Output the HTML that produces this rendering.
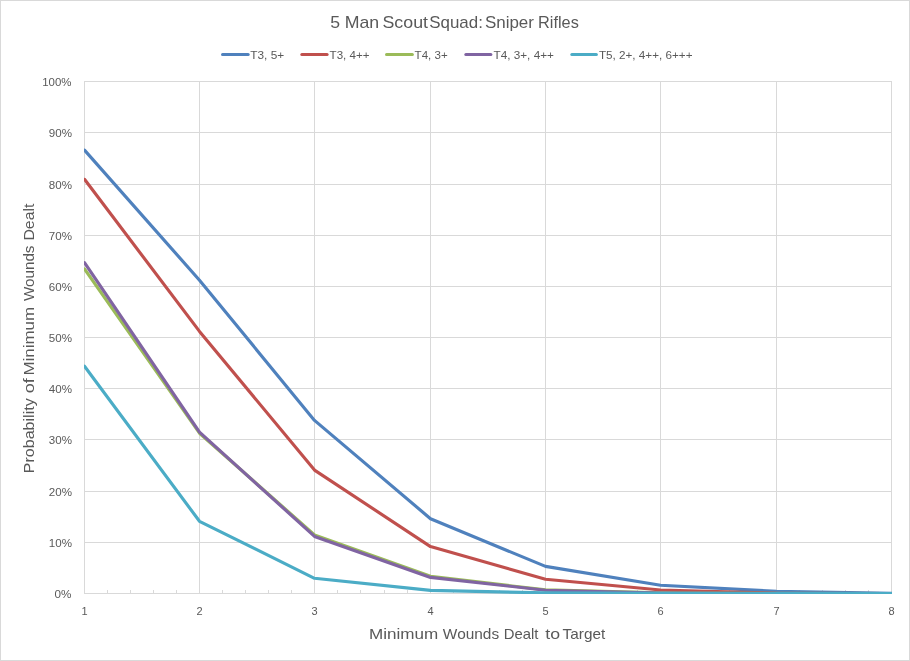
<!DOCTYPE html>
<html lang="en"><head><meta charset="utf-8"><title>5 Man Scout Squad: Sniper Rifles</title>
<style>html,body{margin:0;padding:0;background:#fff}svg{display:block}text{font-family:"Liberation Sans",sans-serif;fill:#595959}</style></head><body>
<svg width="910" height="661" viewBox="0 0 910 661">
<rect x="0" y="0" width="910" height="661" fill="#fff"/>
<rect x="0.5" y="0.5" width="909" height="660" fill="none" stroke="#d9d9d9" stroke-width="1"/>
<g stroke="#d9d9d9" stroke-width="1" shape-rendering="crispEdges">
<line x1="84" y1="593.5" x2="892" y2="593.5"/>
<line x1="84" y1="542.5" x2="892" y2="542.5"/>
<line x1="84" y1="491.5" x2="892" y2="491.5"/>
<line x1="84" y1="439.5" x2="892" y2="439.5"/>
<line x1="84" y1="388.5" x2="892" y2="388.5"/>
<line x1="84" y1="337.5" x2="892" y2="337.5"/>
<line x1="84" y1="286.5" x2="892" y2="286.5"/>
<line x1="84" y1="235.5" x2="892" y2="235.5"/>
<line x1="84" y1="184.5" x2="892" y2="184.5"/>
<line x1="84" y1="132.5" x2="892" y2="132.5"/>
<line x1="84" y1="81.5" x2="892" y2="81.5"/>
<line x1="84.5" y1="81" x2="84.5" y2="594"/>
<line x1="199.5" y1="81" x2="199.5" y2="594"/>
<line x1="314.5" y1="81" x2="314.5" y2="594"/>
<line x1="430.5" y1="81" x2="430.5" y2="594"/>
<line x1="545.5" y1="81" x2="545.5" y2="594"/>
<line x1="660.5" y1="81" x2="660.5" y2="594"/>
<line x1="776.5" y1="81" x2="776.5" y2="594"/>
<line x1="891.5" y1="81" x2="891.5" y2="594"/>
<line x1="107.5" y1="590" x2="107.5" y2="594"/>
<line x1="130.5" y1="590" x2="130.5" y2="594"/>
<line x1="153.5" y1="590" x2="153.5" y2="594"/>
<line x1="176.5" y1="590" x2="176.5" y2="594"/>
<line x1="222.5" y1="590" x2="222.5" y2="594"/>
<line x1="245.5" y1="590" x2="245.5" y2="594"/>
<line x1="268.5" y1="590" x2="268.5" y2="594"/>
<line x1="291.5" y1="590" x2="291.5" y2="594"/>
<line x1="337.5" y1="590" x2="337.5" y2="594"/>
<line x1="360.5" y1="590" x2="360.5" y2="594"/>
<line x1="384.5" y1="590" x2="384.5" y2="594"/>
<line x1="407.5" y1="590" x2="407.5" y2="594"/>
<line x1="453.5" y1="590" x2="453.5" y2="594"/>
<line x1="476.5" y1="590" x2="476.5" y2="594"/>
<line x1="499.5" y1="590" x2="499.5" y2="594"/>
<line x1="522.5" y1="590" x2="522.5" y2="594"/>
<line x1="568.5" y1="590" x2="568.5" y2="594"/>
<line x1="591.5" y1="590" x2="591.5" y2="594"/>
<line x1="614.5" y1="590" x2="614.5" y2="594"/>
<line x1="637.5" y1="590" x2="637.5" y2="594"/>
<line x1="683.5" y1="590" x2="683.5" y2="594"/>
<line x1="706.5" y1="590" x2="706.5" y2="594"/>
<line x1="729.5" y1="590" x2="729.5" y2="594"/>
<line x1="752.5" y1="590" x2="752.5" y2="594"/>
<line x1="799.5" y1="590" x2="799.5" y2="594"/>
<line x1="822.5" y1="590" x2="822.5" y2="594"/>
<line x1="845.5" y1="590" x2="845.5" y2="594"/>
<line x1="868.5" y1="590" x2="868.5" y2="594"/>
</g>
<defs><clipPath id="plot"><rect x="84" y="81" width="808" height="513"/></clipPath></defs>
<g clip-path="url(#plot)" fill="none" stroke-width="3.15" stroke-linejoin="round" stroke-linecap="round">
<polyline stroke="#4F81BD" points="84.5,150.1 199.5,280.2 314.5,420.4 430.5,518.7 545.5,566.4 660.5,585.3 776.5,591.3 891.5,593.3"/>
<polyline stroke="#C0504D" points="84.5,179.3 199.5,331.4 314.5,470.1 430.5,546.6 545.5,579.2 660.5,590.0 776.5,593.2 891.5,593.5"/>
<polyline stroke="#9BBB59" points="84.5,268.9 199.5,433.2 314.5,534.9 430.5,576.3 545.5,589.9 660.5,592.9 776.5,593.4 891.5,593.5"/>
<polyline stroke="#8064A2" points="84.5,262.7 199.5,432.2 314.5,536.4 430.5,577.4 545.5,590.2 660.5,593.0 776.5,593.4 891.5,593.5"/>
<polyline stroke="#4BACC6" points="84.5,366.2 199.5,521.3 314.5,578.3 430.5,590.4 545.5,592.9 660.5,593.4 776.5,593.5 891.5,593.5"/>
</g>
<text y="27.6" font-size="16.6" xml:space="preserve"><tspan x="330.20" textLength="9.83" lengthAdjust="spacingAndGlyphs">5</tspan> <tspan x="344.75" textLength="34.46" lengthAdjust="spacingAndGlyphs">Man</tspan> <tspan x="382.50" textLength="45.51" lengthAdjust="spacingAndGlyphs">Scout</tspan> <tspan x="429.24" textLength="53.64" lengthAdjust="spacingAndGlyphs">Squad:</tspan> <tspan x="484.93" textLength="49.00" lengthAdjust="spacingAndGlyphs">Sniper</tspan> <tspan x="538.08" textLength="40.71" lengthAdjust="spacingAndGlyphs">Rifles</tspan></text>
<line x1="222.5" y1="54.5" x2="248.2" y2="54.5" stroke="#4F81BD" stroke-width="3" stroke-linecap="round"/>
<text x="250.3" y="59" font-size="11" textLength="33.9" lengthAdjust="spacingAndGlyphs">T3, 5+</text>
<line x1="301.8" y1="54.5" x2="327.1" y2="54.5" stroke="#C0504D" stroke-width="3" stroke-linecap="round"/>
<text x="329.6" y="59" font-size="11" textLength="39.9" lengthAdjust="spacingAndGlyphs">T3, 4++</text>
<line x1="386.5" y1="54.5" x2="412.4" y2="54.5" stroke="#9BBB59" stroke-width="3" stroke-linecap="round"/>
<text x="414.6" y="59" font-size="11" textLength="33.1" lengthAdjust="spacingAndGlyphs">T4, 3+</text>
<line x1="465.8" y1="54.5" x2="490.9" y2="54.5" stroke="#8064A2" stroke-width="3" stroke-linecap="round"/>
<text x="493.5" y="59" font-size="11" textLength="60.4" lengthAdjust="spacingAndGlyphs">T4, 3+, 4++</text>
<line x1="571.8" y1="54.5" x2="596.4" y2="54.5" stroke="#4BACC6" stroke-width="3" stroke-linecap="round"/>
<text x="598.9" y="59" font-size="11" textLength="93.6" lengthAdjust="spacingAndGlyphs">T5, 2+, 4++, 6+++</text>
<text x="54.6" y="598.0" font-size="11" textLength="16.9" lengthAdjust="spacingAndGlyphs">0%</text>
<text x="48.8" y="547.0" font-size="11" textLength="23.2" lengthAdjust="spacingAndGlyphs">10%</text>
<text x="48.8" y="496.0" font-size="11" textLength="23.2" lengthAdjust="spacingAndGlyphs">20%</text>
<text x="48.8" y="444.0" font-size="11" textLength="23.2" lengthAdjust="spacingAndGlyphs">30%</text>
<text x="48.8" y="393.0" font-size="11" textLength="23.2" lengthAdjust="spacingAndGlyphs">40%</text>
<text x="48.8" y="342.0" font-size="11" textLength="23.2" lengthAdjust="spacingAndGlyphs">50%</text>
<text x="48.8" y="291.0" font-size="11" textLength="23.2" lengthAdjust="spacingAndGlyphs">60%</text>
<text x="48.8" y="240.0" font-size="11" textLength="23.2" lengthAdjust="spacingAndGlyphs">70%</text>
<text x="48.8" y="189.0" font-size="11" textLength="23.2" lengthAdjust="spacingAndGlyphs">80%</text>
<text x="48.8" y="137.0" font-size="11" textLength="23.2" lengthAdjust="spacingAndGlyphs">90%</text>
<text x="42.2" y="86.0" font-size="11" textLength="29.3" lengthAdjust="spacingAndGlyphs">100%</text>
<text x="84.5" y="615" font-size="11" text-anchor="middle">1</text>
<text x="199.5" y="615" font-size="11" text-anchor="middle">2</text>
<text x="314.5" y="615" font-size="11" text-anchor="middle">3</text>
<text x="430.5" y="615" font-size="11" text-anchor="middle">4</text>
<text x="545.5" y="615" font-size="11" text-anchor="middle">5</text>
<text x="660.5" y="615" font-size="11" text-anchor="middle">6</text>
<text x="776.5" y="615" font-size="11" text-anchor="middle">7</text>
<text x="891.5" y="615" font-size="11" text-anchor="middle">8</text>
<text y="638.6" font-size="14.5" xml:space="preserve"><tspan x="368.96" textLength="69.18" lengthAdjust="spacingAndGlyphs">Minimum</tspan> <tspan x="442.89" textLength="56.23" lengthAdjust="spacingAndGlyphs">Wounds</tspan> <tspan x="503.72" textLength="34.64" lengthAdjust="spacingAndGlyphs">Dealt</tspan>  <tspan x="545.38" textLength="14.78" lengthAdjust="spacingAndGlyphs">to</tspan> <tspan x="562.63" textLength="42.60" lengthAdjust="spacingAndGlyphs">Target</tspan></text>
<text transform="translate(34.2,471.8) rotate(-90)" y="0" font-size="14.5" xml:space="preserve"><tspan x="-1.39" textLength="74.86" lengthAdjust="spacingAndGlyphs">Probability</tspan> <tspan x="78.61" textLength="15.07" lengthAdjust="spacingAndGlyphs">of</tspan> <tspan x="96.27" textLength="68.66" lengthAdjust="spacingAndGlyphs">Minimum</tspan> <tspan x="170.80" textLength="55.46" lengthAdjust="spacingAndGlyphs">Wounds</tspan> <tspan x="231.24" textLength="36.99" lengthAdjust="spacingAndGlyphs">Dealt</tspan></text>
</svg></body></html>
